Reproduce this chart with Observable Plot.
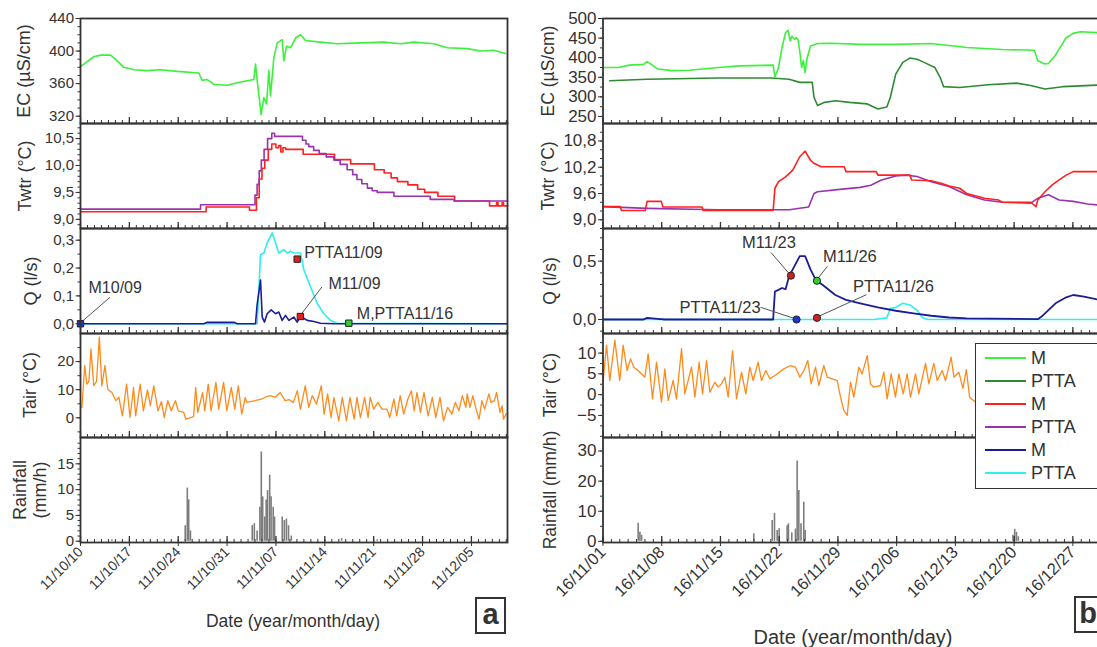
<!DOCTYPE html>
<html><head><meta charset="utf-8">
<script src="https://cdn.jsdelivr.net/npm/d3@7"></script>
<script src="https://cdn.jsdelivr.net/npm/@observablehq/plot@0.6"></script>
<style>
html,body{margin:0;padding:0;background:#fff;overflow:hidden;}
#root{position:relative;width:1097px;height:647px;overflow:hidden;font-family:"Liberation Sans",Arial,Helvetica,sans-serif;color:#333;}
.ylab{position:absolute;transform:translate(-50%,-50%) rotate(-90deg);white-space:nowrap;text-align:center;line-height:1.12;}
.xtitle{position:absolute;transform:translate(-50%,-50%);white-space:nowrap;}
.tag{position:absolute;border:2px solid #333;background:#fff;font-weight:bold;text-align:center;box-sizing:border-box;}
.legend{position:absolute;border:1.6px solid #333;background:#fff;box-sizing:border-box;z-index:5;}
.legend .row{position:absolute;left:9px;height:20px;display:flex;align-items:center;}
.legend .sw{width:41px;height:0;border-top:2px solid;margin-right:5px;}
</style></head>
<body><div id="root"></div>
<script>
// ---------------- DATA (day offset from panel start, value) ----------------
const startA = "2011-10-10";
const startB = "2016-11-01";

// Panel a
const ecA_M = [[0,381],[0.48,384],[1.91,393],[2.87,395],[4.3,395],[5.01,390],[6.21,380],[7.64,377],[9.55,376],[11.46,377],[13.85,375],[16.95,373],[17.43,364],[18.15,365],[19.1,359],[21.01,358],[22.92,362],[24.83,365],[25.07,384],[25.31,364],[25.88,322],[26.27,343],[26.65,335],[26.98,376],[27.22,345],[27.7,392],[28.18,410],[28.89,414],[29.13,388],[29.51,406],[30.09,404],[30.8,416],[31.52,420],[32.23,413],[34.38,411],[36.77,409],[40.11,410],[43.46,411],[45.85,409],[47.76,411],[50.62,409],[52.53,404],[55.4,403],[57.31,400],[59.22,401],[60.89,397]];
const twA_M = [[0,9.14],[18.0,9.23],[24.2,9.17],[25.2,9.4],[25.6,9.75],[26.0,9.95],[26.4,10.1],[26.9,10.3],[27.4,10.40],[28.0,10.33],[28.4,10.37],[28.7,10.25],[29.0,10.33],[29.4,10.30],[31.9,10.21],[36.4,10.11],[38.7,10.03],[42.1,9.92],[43.5,9.86],[44.5,9.77],[45.4,9.70],[46.9,9.64],[48.3,9.56],[49.3,9.50],[51.2,9.43],[53.6,9.34],[58.6,9.25],[59.6,9.31],[59.8,9.25],[60.4,9.31],[60.6,9.25],[61.2,9.25]];
const twA_P = [[0,9.19],[17.2,9.27],[25.0,9.45],[25.3,9.65],[25.6,9.9],[25.9,10.1],[26.3,10.3],[26.8,10.5],[27.4,10.6],[27.8,10.54],[31.8,10.47],[32.3,10.4],[32.7,10.35],[33.4,10.28],[34.2,10.22],[35.2,10.16],[36.3,10.1],[37.2,10.02],[38.2,9.92],[39.0,9.83],[39.6,9.74],[40.3,9.66],[41.1,9.58],[41.8,9.53],[42.5,9.5],[44.9,9.43],[50.1,9.37],[53.5,9.34],[61.2,9.34]];
const qA_M = [[0,0],[17.67,0],[18.15,0.005],[21.97,0.005],[22.45,0],[25.07,0],[25.31,0.07],[25.79,0.157],[26.03,0.024],[26.36,0.006],[26.74,0.036],[27.32,0.05],[27.94,0.036],[28.41,0.042],[28.89,0.012],[29.37,0.03],[29.85,0.012],[30.56,0.024],[31.04,0.006],[31.52,0.027],[32.47,0.012],[33.43,0.008],[34.38,0.002],[36.29,0],[61.1,0]];
const qA_P = [[0,0],[25.31,0],[25.79,0.248],[26.27,0.254],[26.74,0.29],[27.46,0.326],[27.94,0.29],[28.41,0.254],[29.13,0.266],[29.61,0.254],[30.09,0.26],[30.56,0.254],[31.52,0.254],[32.0,0.193],[32.95,0.133],[33.91,0.073],[34.86,0.036],[35.82,0.012],[36.77,0.002],[61.1,0]];
const tairA = [[0.2,3.7],[0.6,18.6],[0.9,12],[1.2,13],[1.5,24.5],[1.9,11.4],[2.3,13],[2.7,28.7],[3.05,11.4],[3.5,18.6],[3.9,10.2],[4.5,9.0],[5.06,6.1],[5.5,7.3],[6.0,0.7],[6.6,12],[7.1,0.1],[7.6,10.8],[7.9,0.7],[8.55,12],[9.0,2.5],[9.6,9.9],[10.0,4.3],[10.5,11.4],[11.1,2.5],[11.6,5.8],[12.0,0.1],[12.5,6.1],[13.0,2.5],[13.6,6.1],[14.0,2.5],[14.8,1.9],[15.1,-0.5],[16.2,0.4],[16.5,10.8],[16.8,1.9],[17.5,9],[17.8,2.5],[18.3,12],[18.7,2.5],[19.4,12.6],[19.8,3.1],[20.5,12.6],[20.96,2.5],[21.6,10.8],[22.1,3.1],[22.6,11.4],[23.1,1.3],[23.6,7.3],[23.8,5.5],[25.0,6.1],[26.0,6.7],[26.6,7.5],[27.2,7.9],[27.9,7.3],[28.6,9],[29.3,6.1],[29.9,6.5],[30.1,6.1],[30.5,5.5],[31.05,9.6],[31.5,3.1],[32.2,11.4],[32.7,3.7],[33.2,7.9],[33.8,4.9],[34.5,11.4],[34.9,1.3],[35.4,8.5],[35.9,0.1],[36.3,7.3],[37.0,-1.1],[37.5,7.3],[38.1,-1.1],[38.6,7.3],[39.2,-0.5],[39.6,7.3],[40.1,0.1],[40.7,7.3],[41.2,0.1],[41.5,7.3],[42.0,3.1],[42.6,5.5],[43.2,3.1],[43.9,3.1],[44.3,0.1],[44.9,6.7],[45.3,0.7],[45.8,7.9],[46.3,1.3],[46.9,6.7],[47.4,9.6],[47.8,2.5],[48.2,9.0],[48.7,1.9],[49.2,9.0],[49.8,0.7],[50.4,7.3],[50.9,0.1],[51.5,7.3],[52.0,-1.1],[52.6,3.7],[53.2,1.3],[53.7,5.5],[54.2,2.5],[54.7,7.9],[55.2,3.7],[55.4,8.5],[55.8,3.7],[56.2,7.9],[56.6,3.7],[57.1,-0.5],[57.5,6.1],[57.9,3.1],[58.5,8.5],[58.8,5.5],[59.3,6.1],[59.6,9.0],[60.1,1.9],[60.4,4.3],[60.6,-0.5],[61.0,1.5]];
const rainA = [[4.5,0.3],[15.0,3],[15.3,10.3],[15.5,8],[15.75,2],[24.6,3.0],[24.9,3.4],[25.3,2],[25.7,6.6],[25.9,17.3],[26.1,8.6],[26.4,4.7],[26.6,8],[26.8,9.8],[27.1,12.8],[27.3,8.6],[27.6,6.6],[27.8,4.7],[28.9,4.7],[29.2,4],[29.5,4.3],[29.8,3],[30.2,1],[37.4,0.5],[42.5,0.3]];

// Panel b
const ecB_M = [[0,375],[1.86,375],[3.13,381],[4.83,383],[5.25,390],[5.67,384],[6.52,371],[8.21,367],[10.33,368],[13.72,375],[16.26,379],[20.28,381],[20.49,350],[20.92,375],[21.34,426],[21.76,464],[22.06,470],[22.31,443],[22.52,455],[22.82,447],[23.03,451],[23.24,447],[23.45,417],[23.67,375],[23.88,393],[24.09,362],[24.3,396],[24.73,430],[25.57,436],[27.27,437],[30.65,434],[34.89,434],[39.12,436],[43.35,426],[47.59,421],[51.4,419],[51.83,392],[52.67,384],[53.09,385],[53.94,407],[55.21,451],[56.05,462],[56.9,466],[58.89,464]];
const ecB_P = [[0.8,341],[5.25,345],[13.72,348],[20.07,348],[22.18,345],[23.45,337],[24.94,337],[25.15,299],[25.57,278],[26.42,286],[27.69,290],[29.38,286],[31.5,282],[32.77,269],[33.83,274],[34.25,299],[34.89,358],[35.73,388],[36.58,399],[37.43,396],[38.27,388],[39.54,375],[40.18,350],[40.6,326],[42.51,324],[45.89,331],[49.28,335],[50.97,329],[52.67,320],[54.78,326],[58.89,330]];
const twB_M = [[0,9.30],[2.07,9.30],[2.2,9.21],[5.04,9.21],[5.25,9.42],[6.94,9.42],[7.15,9.29],[11.81,9.29],[11.94,9.21],[20.28,9.21],[20.49,9.72],[20.92,9.87],[21.76,9.98],[22.6,10.13],[23.45,10.44],[24.09,10.57],[24.73,10.36],[25.15,10.29],[26.0,10.21],[28.75,10.21],[28.96,10.1],[32.56,10.1],[32.77,10.02],[36.58,10.02],[36.79,9.91],[39.12,9.89],[40.39,9.83],[41.24,9.77],[42.51,9.72],[43.35,9.6],[45.47,9.49],[47.16,9.45],[47.59,9.4],[50.97,9.4],[51.61,9.30],[51.82,9.45],[52.67,9.64],[53.51,9.79],[54.36,9.91],[55.21,10.02],[56.05,10.1],[58.89,10.1]];
const twB_P = [[0,9.30],[5.25,9.26],[13.72,9.23],[22.18,9.23],[24.51,9.29],[25.15,9.6],[25.57,9.64],[28.54,9.70],[30.65,9.74],[31.92,9.79],[33.19,9.91],[34.89,10.0],[36.16,10.02],[37.43,9.99],[39.12,9.87],[41.24,9.76],[43.35,9.57],[45.47,9.45],[47.59,9.40],[50.97,9.38],[51.82,9.49],[53.09,9.57],[54.36,9.45],[56.05,9.42],[57.75,9.36],[58.89,9.34]];
const qB_M = [[0,0],[4.83,0],[5.25,0.014],[6.52,0.006],[7.37,0],[20.28,0],[20.49,0.24],[20.92,0.254],[21.34,0.27],[21.76,0.26],[22.18,0.37],[22.82,0.457],[23.45,0.543],[24.09,0.543],[24.73,0.43],[25.36,0.34],[26.42,0.283],[27.69,0.21],[28.96,0.168],[30.65,0.139],[32.77,0.104],[34.89,0.075],[37.0,0.052],[39.12,0.032],[41.24,0.017],[43.35,0.009],[51.82,0.003],[52.24,0.023],[53.09,0.081],[53.94,0.139],[55.21,0.19],[56.05,0.21],[57.32,0.197],[58.89,0.173]];
const qB_P = [[0,0],[32.35,0],[33.83,0.014],[34.25,0.095],[34.89,0.104],[35.73,0.139],[36.58,0.124],[37.43,0.081],[38.06,0.017],[38.7,0],[58.89,0]];
const tairB = [[0.0,3.0],[0.42,11.9],[0.81,3.4],[1.41,13.1],[2.0,3.4],[2.4,11.9],[2.88,5.8],[3.28,8.6],[3.67,6.6],[4.19,5.8],[4.99,4.2],[5.38,9.8],[5.9,-1.0],[6.38,7.8],[6.97,-1.8],[7.37,6.2],[7.77,-1.4],[8.36,3.4],[8.76,-1.0],[9.36,11.1],[9.75,0.2],[10.55,6.6],[10.95,-0.6],[11.46,7.8],[11.86,0.2],[12.34,8.2],[12.73,0.6],[13.33,3.0],[13.73,1.8],[14.12,2.6],[14.52,4.2],[14.92,-0.6],[15.44,10.6],[15.91,-1.0],[16.51,5.4],[17.02,0.2],[17.5,6.6],[17.9,3.4],[18.49,7.8],[18.89,3.4],[19.41,5.8],[19.88,3.8],[20.48,4.6],[20.76,5.0],[21.55,6.2],[22.35,7.0],[22.94,6.6],[23.46,4.2],[23.94,5.8],[24.41,8.2],[24.81,2.6],[25.33,6.6],[25.72,2.2],[26.32,7.0],[26.72,4.2],[27.31,3.8],[27.91,3.4],[28.31,-0.6],[28.7,-3.8],[29.1,-5.0],[29.5,3.0],[29.9,-0.6],[30.49,6.6],[30.89,5.0],[31.49,9.4],[31.88,2.6],[32.28,1.8],[33.08,2.2],[33.47,5.4],[33.87,-1.0],[34.35,5.0],[34.86,-0.6],[35.26,5.0],[35.78,0.2],[36.25,5.0],[36.65,-0.6],[37.25,5.0],[37.64,0.2],[38.44,7.5],[38.84,2.6],[39.43,7.5],[39.83,3.4],[40.43,5.8],[40.82,3.4],[41.5,9.0],[41.82,4.2],[42.41,5.4],[42.9,1.5],[43.3,6.0],[43.7,-0.6],[44.4,-1.8],[45.0,-1.0]];
const rainB = [[4.19,6],[4.4,3],[4.6,2],[17.97,2.5],[20.17,6.9],[20.44,9.3],[20.76,3.6],[21.0,4.2],[21.95,5.2],[22.1,5.8],[22.5,2.8],[22.94,4.1],[23.14,26.7],[23.34,16.9],[23.6,5.8],[23.93,13],[24.1,3.6],[48.86,2],[49.07,4],[49.28,3],[49.5,1.5]];

// Annotated sampling points on Q
const qMarkA_labels = ["M10/09","PTTA11/09","M11/09","M,PTTA11/16"];
const qMarkA_day = [0, 31.04, 31.5, 38.44];
const qMarkA_val = [0, 0.232, 0.026, 0.002];
const qMarkB_labels = ["M11/23","M11/26","PTTA11/23","PTTA11/26"];
const qMarkB_day = [22.4, 25.5, 23.07, 25.5];
const qMarkB_val = [0.376, 0.332, 0, 0.014];

// Tick labels
const ecA_ticks = [320,360,400,440], twA_ticks = [9.0,9.5,10.0,10.5], qA_ticks = [0,0.1,0.2,0.3], tairA_ticks = [0,10,20], rainA_ticks = [0,5,10,15];
const ecB_ticks = [250,300,350,400,450,500], twB_ticks = [9.0,9.6,10.2,10.8], qB_ticks = [0,0.5], tairB_ticks = [-5,0,5,10], rainB_ticks = [0,10,20,30];
const legendLabels = ["M","PTTA","M","PTTA","M","PTTA"];

// ---------------- STYLE / LAYOUT ----------------
const C = {ecM:"#3cf03c", ecP:"#2f8a34", twM:"#ff2020", twP:"#9a34ae", qM:"#1c1c96", qP:"#2eeeee", tair:"#ff8a1c", rain:"#7d7d7d"};
const FONT = '"Liberation Sans", Arial, Helvetica, sans-serif';
const DAY = 864e5;
const toDate = (start, d) => new Date(Date.parse(start + "T00:00:00Z") + d * DAY);
const ser = (start, arr) => arr.map(([d, v]) => ({date: toDate(start, d), value: v}));
const comma = k => d => d.toFixed(k).replace(".", ",");
const rng = (a, b, s) => d3.range(Math.round(a / s), Math.round(b / s) + 1).map(i => +(i * s).toFixed(4));

const PA = {start: startA, span: 61.17, svgLeft: 0, svgWidth: 515, frameLeft: 80, frameRight: 507, yFont: 15, xFont: 14};
const PB = {start: startB, span: 60.5, svgLeft: 540, svgWidth: 580, frameLeft: 602.5, frameRight: 1110.1, yFont: 17, xFont: 16.5};
const ROWS = [{top:18,h:105},{top:123,h:105},{top:228,h:105},{top:333,h:104},{top:437,h:105}];

const root = document.getElementById("root");
const NS = "http://www.w3.org/2000/svg";

function subplot(P, row, cfg) {
  const mt = 2, mb = cfg.last ? 110 : 2;
  const x0 = toDate(P.start, 0), x1 = toDate(P.start, P.span);
  const days = d3.utcDay.range(x0, x1);
  const weeks = days.filter((d, i) => i % 7 === 0);
  const marks = [
    ...cfg.marks,
    Plot.ruleX(days, {stroke: "#333", strokeWidth: 1, insetTop: row.h - 3}),
    Plot.ruleX(weeks, {stroke: "#333", strokeWidth: 1.3, insetTop: row.h - 6}),
    Plot.axisY(cfg.minor, {tickSize: 2.5, tickFormat: () => "", label: null, stroke: "#333"}),
    Plot.axisY(cfg.ticks, {tickSize: 4.5, tickPadding: 2, tickFormat: cfg.fmt, label: null, fontSize: P.yFont, stroke: "#333"}),
    Plot.frame({stroke: "#333", strokeWidth: 1.8})
  ];
  if (cfg.last) marks.push(Plot.axisX(weeks, {tickSize: 4, tickPadding: 3, tickRotate: -45, tickFormat: d3.utcFormat("%y/%m/%d"), label: null, fontSize: P.xFont, stroke: "#333"}));
  const svg = Plot.plot({
    width: P.svgWidth, height: row.h + mt + mb,
    marginLeft: P.frameLeft - P.svgLeft, marginRight: P.svgLeft + P.svgWidth - P.frameRight,
    marginTop: mt, marginBottom: mb,
    x: cfg.last ? {type: "utc", domain: [x0, x1]} : {type: "utc", domain: [x0, x1], axis: null},
    y: {domain: cfg.domain},
    style: {fontFamily: FONT, color: "#333", background: "transparent", overflow: "visible", maxWidth: "none"},
    marks
  });
  svg.style.position = "absolute";
  svg.style.left = P.svgLeft + "px";
  svg.style.top = (row.top - mt) + "px";
  root.appendChild(svg);
}

function line(start, arr, color, curve = "linear", w = 1.6) {
  return Plot.line(ser(start, arr), {x: "date", y: "value", stroke: color, strokeWidth: w, curve});
}
function rain(start, arr) {
  return Plot.ruleX(ser(start, arr), {x: "date", y1: 0, y2: "value", stroke: C.rain, strokeWidth: 1.6});
}
function annotations(start, labels, days, vals, look, symbol, fontSize) {
  const pts = labels.map((l, i) => ({label: l, date: toDate(start, days[i]), value: vals[i]}));
  const leaders = (index, scales) => {
    const g = document.createElementNS(NS, "g");
    pts.forEach((p, i) => {
      const L = look[i].leader; if (!L) return;
      const x = scales.x(p.date), y = scales.y(p.value);
      const ln = document.createElementNS(NS, "line");
      ln.setAttribute("x1", x); ln.setAttribute("y1", y);
      ln.setAttribute("x2", x + L[0]); ln.setAttribute("y2", y + L[1]);
      ln.setAttribute("stroke", "#555"); ln.setAttribute("stroke-width", "1");
      g.appendChild(ln);
    });
    return g;
  };
  const out = [leaders];
  pts.forEach((p, i) => {
    out.push(Plot.dot([p], {x: "date", y: "value", symbol, r: 3.6, fill: look[i].fill, stroke: "#222", strokeWidth: 1}));
    out.push(Plot.text([p], {x: "date", y: "value", text: "label", dx: look[i].dx, dy: look[i].dy, textAnchor: look[i].anchor, fontSize, fill: "#333"}));
  });
  return out;
}
const lookA = [
  {fill: "#2233cc", dx: 8, dy: -36, anchor: "start", leader: [30, -26]},
  {fill: "#e02020", dx: 7, dy: -6, anchor: "start"},
  {fill: "#e02020", dx: 28, dy: -33, anchor: "start", leader: [22, -29]},
  {fill: "#30d030", dx: 8, dy: -9, anchor: "start"}
];
const lookB = [
  {fill: "#d02020", dx: -22, dy: -33, anchor: "middle", leader: [-19.5, -22.7]},
  {fill: "#30d030", dx: 6, dy: -24, anchor: "start", leader: [11, -14]},
  {fill: "#2233cc", dx: -36, dy: -12, anchor: "end", leader: [-35.5, -11.7]},
  {fill: "#d02020", dx: 36, dy: -31, anchor: "start", leader: [50, -22.7]}
];

// ---- Panel a ----
subplot(PA, ROWS[0], {domain: [311, 440], ticks: ecA_ticks, minor: rng(320, 440, 10), fmt: d3.format("d"), marks: [line(startA, ecA_M, C.ecM)]});
subplot(PA, ROWS[1], {domain: [8.83, 10.78], ticks: twA_ticks, minor: rng(8.9, 10.7, 0.1), fmt: comma(1), marks: [line(startA, twA_M, C.twM, "step-after"), line(startA, twA_P, C.twP, "step-after")]});
subplot(PA, ROWS[2], {domain: [-0.035, 0.342], ticks: qA_ticks, minor: rng(0, 0.3, 0.05), fmt: comma(1), marks: [line(startA, qA_P, C.qP), line(startA, qA_M, C.qM), ...annotations(startA, qMarkA_labels, qMarkA_day, qMarkA_val, lookA, "square", 16)]});
subplot(PA, ROWS[3], {domain: [-7, 30], ticks: tairA_ticks, minor: rng(-5, 25, 5), fmt: d3.format("d"), marks: [line(startA, tairA, C.tair, "linear", 1.3)]});
subplot(PA, ROWS[4], {domain: [-0.25, 20.1], ticks: rainA_ticks, minor: rng(0, 19, 1), fmt: d3.format("d"), marks: [rain(startA, rainA)], last: true});

// ---- Panel b ----
subplot(PB, ROWS[0], {domain: [232, 500], ticks: ecB_ticks, minor: rng(250, 500, 25), fmt: d3.format("d"), marks: [line(startB, ecB_P, C.ecP), line(startB, ecB_M, C.ecM)]});
subplot(PB, ROWS[1], {domain: [8.8, 11.2], ticks: twB_ticks, minor: rng(8.8, 11.0, 0.2), fmt: comma(1), marks: [line(startB, twB_P, C.twP), line(startB, twB_M, C.twM)]});
subplot(PB, ROWS[2], {domain: [-0.12, 0.78], ticks: qB_ticks, minor: rng(-0.1, 0.7, 0.1), fmt: comma(1), marks: [line(startB, qB_P, C.qP), line(startB, qB_M, C.qM, "linear", 1.8), ...annotations(startB, qMarkB_labels, qMarkB_day, qMarkB_val, lookB, "circle", 16.5)]});
subplot(PB, ROWS[3], {domain: [-10.3, 14.7], ticks: tairB_ticks, minor: rng(-10, 12.5, 2.5), fmt: d3.format("d"), marks: [line(startB, tairB, C.tair, "linear", 1.3)]});
subplot(PB, ROWS[4], {domain: [-0.4, 34.5], ticks: rainB_ticks, minor: rng(0, 30, 5), fmt: d3.format("d"), marks: [rain(startB, rainB)], last: true});

// ---- text: axis titles, tags, legend ----
function addDiv(cls, html, style) {
  const el = document.createElement("div");
  el.className = cls; el.innerHTML = html;
  Object.assign(el.style, style);
  root.appendChild(el);
  return el;
}
const ylabA = [["EC (µS/cm)", 24], ["Twtr (°C)", 25], ["Q (l/s)", 31], ["Tair (°C)", 30], ["Rainfall<br>(mm/h)", 30]];
const ylabB = [["EC (µS/cm)", 549], ["Twtr (°C)", 549], ["Q (l/s)", 551], ["Tair (°C)", 551], ["Rainfall (mm/h)", 551]];
ylabA.forEach(([t, x], i) => addDiv("ylab", t, {left: x + "px", top: (ROWS[i].top + ROWS[i].h / 2) + "px", fontSize: "18px"}));
ylabB.forEach(([t, x], i) => addDiv("ylab", t, {left: x + "px", top: (ROWS[i].top + ROWS[i].h / 2) + "px", fontSize: "17.5px"}));
addDiv("xtitle", "Date (year/month/day)", {left: "293px", top: "621px", fontSize: "17.5px"});
addDiv("xtitle", "Date (year/month/day)", {left: "853px", top: "637px", fontSize: "20px"});
addDiv("tag", "a", {left: "475px", top: "597px", width: "31px", height: "37px", fontSize: "29px", lineHeight: "31px"});
addDiv("tag", "b", {left: "1074px", top: "596px", width: "40px", height: "37px", fontSize: "29px", lineHeight: "31px", paddingRight: "12px"});

const legend = addDiv("legend", "", {left: "975px", top: "343px", width: "140px", height: "146px"});
const legendColors = [C.ecM, C.ecP, C.twM, C.twP, C.qM, C.qP];
legendLabels.forEach((t, i) => {
  const r = document.createElement("div");
  r.className = "row";
  r.style.top = (4 + i * 23) + "px";
  r.style.fontSize = "18px";
  r.innerHTML = `<span class="sw" style="border-color:${legendColors[i]}"></span><span>${t}</span>`;
  legend.appendChild(r);
});
</script>
</body></html>
